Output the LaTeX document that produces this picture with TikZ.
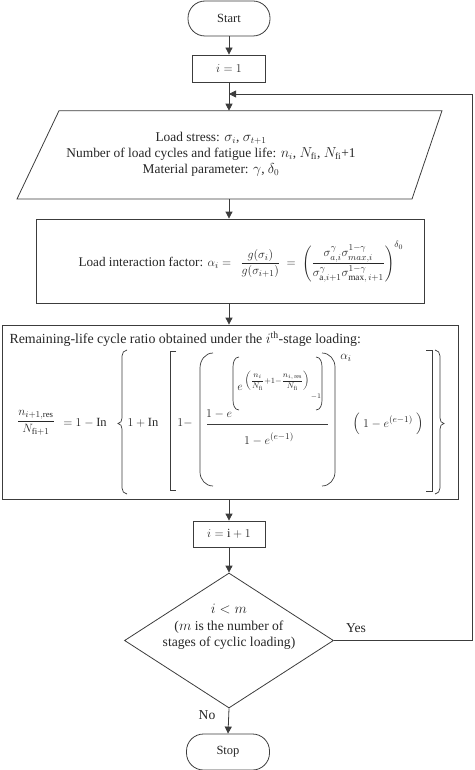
\documentclass[tikz,border=0pt]{standalone}
\usepackage{fontspec}
\setmainfont{Liberation Serif}
\usepackage{amsmath}
\usetikzlibrary{arrows.meta,shapes.geometric}
\definecolor{lc}{RGB}{60,60,60}
\begin{document}
\begin{tikzpicture}[x=1pt,y=-1pt,
  every node/.style={font=\fontsize{12.5}{16}\selectfont, text=black!85},
  big/.style={font=\fontsize{13.6}{16.5}\selectfont},
  line/.style={draw=lc, line width=0.8pt},
  arr/.style={line, -{Triangle[length=7pt,width=7pt]}},
  term/.style={line, rectangle, rounded corners=17pt, minimum width=82pt, minimum height=35pt, inner sep=0},
  proc/.style={line, rectangle, inner sep=0},
  brk/.style={draw=lc, line width=0.7pt},
  small/.style={font=\fontsize{7.5}{8}\selectfont, inner sep=0},
]
\useasboundingbox (0,0) rectangle (474,770);

% flow nodes
\node[term] (start) at (229,18.5) {Start};
\node[proc, minimum width=73pt, minimum height=27pt] (i1) at (229,68.5) {$i = 1$};

\coordinate (inTL) at (59,110.7);
\coordinate (inTR) at (442,110.7);
\coordinate (inBR) at (412,199);
\coordinate (inBL) at (17,199);
\coordinate (inTop) at (229,110.7);
\coordinate (inBot) at (229,199);
\draw[line] (inTL) -- (inTR) -- (inBR) -- (inBL) -- cycle;
\node[align=center, font=\fontsize{13.4}{16}\selectfont] (intext) at (211,154) {Load stress: $\sigma_i$, $\sigma_{t+1}$\\
  Number of load cycles and fatigue life: $n_i$, $N_{\mathrm{fi}}$, $N_{\mathrm{fi}}$+1\\
  Material parameter: $\gamma$, $\delta_0$};

\node[proc, minimum width=388pt, minimum height=84pt] (inter) at (230,261) {};
\node[anchor=west, font=\fontsize{13.2}{16}\selectfont] (intertext) at (75,262) {Load interaction factor: $\alpha_i =\hspace{6pt}
  \dfrac{g(\sigma_i)}{g(\sigma_{i+1})}\hspace{3pt}=\hspace{3pt}
  \left(\dfrac{\sigma_{a,i}^{\gamma}\sigma_{max,i}^{1-\gamma}}{\sigma_{\mathrm{a},i+1}^{\gamma}\sigma_{\max,\,i+1}^{1-\gamma}}\right)^{\delta_0}$};

\node[proc, minimum width=456pt, minimum height=174pt] (ratio) at (230,412) {};
\node[anchor=west, font=\fontsize{13.9}{16.5}\selectfont] (hdr) at (6,339) {Remaining-life cycle ratio obtained under the $i^{\mathrm{th}}$-stage loading:};

% formula pieces
\node (lhs) at (36,423) {$\dfrac{n_{i+1,\mathrm{res}}}{N_{\mathrm{fi}+1}}$};
\node (eq) at (85,423) {$=1-{}$In};
\node (t2) at (143,423) {$1+{}$In};
\node (t3) at (185,423) {$1-$};
\node (num) at (219,414) {$1-e$};
\node (den) at (269,439) {$1-e^{(e-1)}$};
\node (ee) at (240,388) {$e$};
\node[small, font=\fontsize{8}{9}\selectfont] (inner) at (277,381) {$\left(\dfrac{n_i}{N_{\mathrm{fi}}}{+}1{-}\dfrac{n_{i,\,\mathrm{res}}}{N_{\mathrm{fi}}}\right)$};
\node[small] (m1) at (316,397) {$-1$};
\node (alpha) at (346,358) {$\alpha_i$};
\node (last) at (388,424) {$\Bigl(\;1-e^{(e-1)}\;\Bigr)$};
\draw[brk] (207,424) -- (328,424);

% curly brace left
\draw[brk] (127,350) to[out=180,in=90] (122,356) -- (122,418) to[out=270,in=0] (118,423.5)
  to[out=0,in=90] (122,429) -- (122,488) to[out=270,in=180] (127,494);
% square bracket left
\draw[brk] (176,351) -- (170,351) -- (170,490) -- (176,490);
% big paren
\draw[brk] (213,353) to[out=180,in=90] (200,368) -- (200,472) to[out=270,in=180] (213,486);
\draw[brk] (322,353) to[out=0,in=90] (335,367) -- (335,472) to[out=270,in=0] (322,486);
% exponent bracket
\draw[brk] (239,357) to[out=180,in=90] (233,367) -- (233,400) to[out=270,in=180] (239,410);
\draw[brk] (316,357) to[out=0,in=90] (322,367) -- (322,400) to[out=270,in=0] (316,410);
% square bracket right
\draw[brk] (426,350) -- (432,350) -- (432,491) -- (426,491);
% curly brace right
\draw[brk] (435,350) to[out=0,in=90] (440,356) -- (440,418) to[out=270,in=180] (444,423.5)
  to[out=180,in=90] (440,429) -- (440,488) to[out=270,in=0] (435,494);

\node[proc, minimum width=72pt, minimum height=26pt] (i2) at (229,534) {$i = \mathrm{i} + 1$};
\node[line, diamond, shape aspect=1.55, minimum width=209pt, minimum height=135pt, inner sep=0] (dec) at (229,640.5) {};
\node[align=center, big] (dectext) at (229,627) {$i<m$\\($m$ is the number of\\stages of cyclic loading)};
\node[term, minimum width=83pt, minimum height=36pt] (stop) at (228,752) {Stop};

\node[big] (yes) at (356,628) {Yes};
\node[big] (no) at (207,715) {No};

% connectors
\coordinate (merge) at (229,94);
\coordinate (loopB) at (472.5,640.5);
\coordinate (loopT) at (472.5,94);
\draw[arr] (start) -- (i1);
\draw[arr] (i1.south) -- (inTop);
\draw[arr] (inBot) -- (inBot |- inter.north);
\draw[arr] (inBot |- inter.south) -- (inBot |- ratio.north);
\draw[arr] (inBot |- ratio.south) -- (i2.north);
\draw[arr] (i2) -- (dec);
\draw[arr] (dec.south) -- (stop.north);
\draw[arr] (dec.east) -- (loopB) -- (loopT) -- (merge);
\end{tikzpicture}
\end{document}
